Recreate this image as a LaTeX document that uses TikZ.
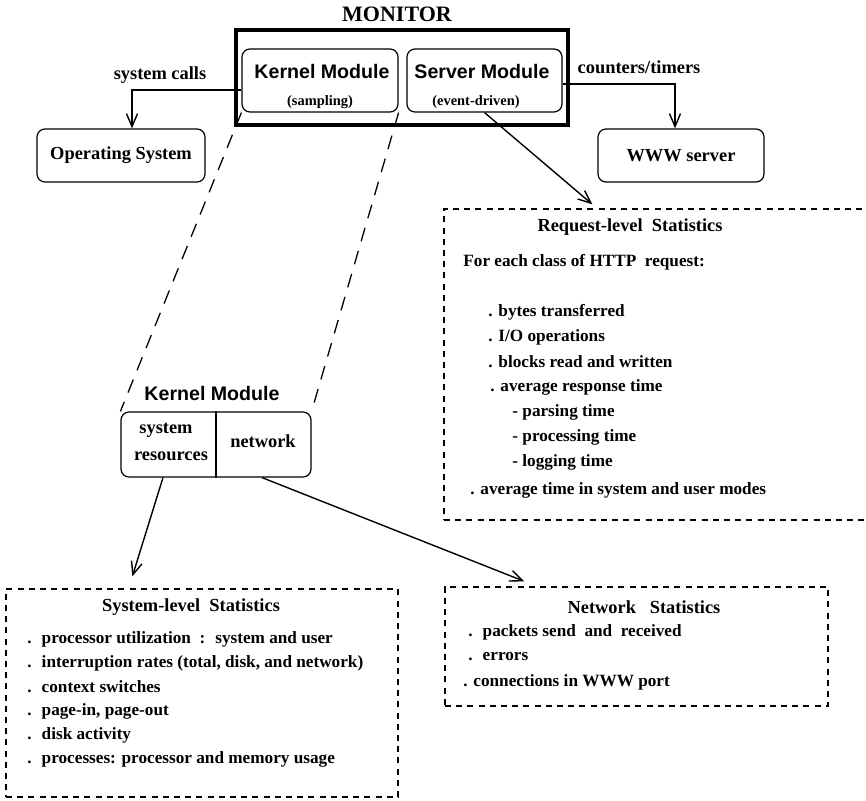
\documentclass[tikz,border=0pt]{standalone}
\usepackage{fontspec}
\setmainfont{Liberation Serif}
\setsansfont{Liberation Sans}
\usetikzlibrary{arrows.meta}

\newcommand{\bodyfont}{\fontsize{9.2}{11}\selectfont\bfseries}
\newcommand{\itemfont}{\fontsize{8.6}{10}\selectfont\bfseries}

\tikzset{
    modbox/.style = {draw, rounded corners = 4pt, line width = 0.6pt, inner sep = 0pt},
    statbox/.style = {draw, dash pattern = on 3pt off 2.6pt, line width = 0.65pt, inner sep = 0pt},
    txt/.style = {inner sep = 0pt, font = \bodyfont},
    item/.style = {inner sep = 0pt, font = \itemfont, anchor = west},
    modname/.style = {inner sep = 0pt, font = \sffamily\fontsize{9.8}{12}\selectfont\bfseries},
    modmode/.style = {inner sep = 0pt, font = \fontsize{7.2}{9}\selectfont\bfseries},
    arr/.style = {-{Straight Barb[length = 6.5pt, width = 5.5pt]}, line width = 0.7pt},
    zoomline/.style = {dash pattern = on 7pt off 5pt, line width = 0.65pt}
}

\begin{document}
\begin{tikzpicture}[x = 0.5pt, y = -0.5pt]
%\draw [help lines] (0,0) grid (866,801);
    \useasboundingbox (0,0) rectangle (866,801);
    \clip (0,0) rectangle (866,801);

    % the monitor and its two modules
    \node [draw, line width = 1.7pt, minimum width = 166pt, minimum height = 47.5pt] (monitor) at (402,77.5) {};
    \node [txt, font = \fontsize{11}{13}\selectfont\bfseries] (montitle) at (397,14) {MONITOR};
    \node [modbox, minimum width = 78pt, minimum height = 31.5pt] (kernel) at (320,80.5) {};
    \node [modname] (kname) at (322,72) {Kernel Module};
    \node [modmode] (kmode) at (320,102) {(sampling)};
    \node [modbox, minimum width = 77.5pt, minimum height = 31.5pt] (server) at (484.5,80.5) {};
    \node [modname] (sname) at (482,72) {Server Module};
    \node [modmode] (smode) at (476,102) {(event-driven)};

    % systems being watched
    \node [modbox, font = \bodyfont, minimum width = 84pt, minimum height = 26.5pt] (os) at (121,155.5) {Operating System};
    \node [modbox, font = \bodyfont, minimum width = 83pt, minimum height = 26.5pt] (www) at (681,155.5) {WWW server};
    \node [txt] (calls) at (160,75) {system calls};
    \node [txt] (counters) at (639,67) {counters/timers};
    \draw [arr] ([yshift = -4.75pt]kernel.west) -| ([xshift = 5.5pt]os.north);
    \draw [arr] ([yshift = -1.75pt]server.east) -| ([xshift = -3pt]www.north);

    % request-level statistics
    \node [statbox, minimum width = 220pt, minimum height = 155.5pt] (req) at (664,364.5) {};
    \node [txt] (reqtitle) at (630,227) {Request-level~ Statistics};
    \node [item] (reqclass) at (463,262) {For each class of HTTP~ request:};
    \node [item] (reqbytes) at (488,312) {. bytes transferred};
    \node [item] (reqio) at (488,337) {. I/O operations};
    \node [item] (reqblocks) at (488,362) {. blocks read and written};
    \node [item] (reqresp) at (490,387) {. average response time};
    \node [item] (reqparse) at (512,412) {- parsing time};
    \node [item] (reqproc) at (512,437) {- processing time};
    \node [item] (reqlog) at (512,462) {- logging time};
    \node [item] (reqmodes) at (470,490) {. average time in system and user modes};
    \draw [arr] (server.south) -- ([xshift = 74.5pt, yshift = 2pt]req.north west);

    % kernel module in detail
    \node [modname] (kname2) at (212,393) {Kernel Module};
    \node [modbox, minimum width = 95pt, minimum height = 32.5pt] (kbox) at (216,444.5) {};
    \draw [line width = 0.6pt] (kbox.north) -- (kbox.south);
    \node [txt] (ksys) at (166,430) {system};
    \node [txt] (kres) at (171,456) {resources};
    \node [txt] (knet) at (263,441) {network};
    \draw [zoomline] (kernel.south west) -- (kbox.north west);
    \draw [zoomline] (kernel.south east) -- (kbox.north east);

    % system-level statistics
    \node [statbox, minimum width = 196pt, minimum height = 104pt] (sys) at (202,693) {};
    \node [txt] (systitle) at (191,607) {System-level~ Statistics};
    \node [item] (sysproc) at (27,639) {.~ processor utilization~ :~ system and user};
    \node [item] (sysint) at (27,663) {.~ interruption rates (total, disk, and network)};
    \node [item] (sysctx) at (27,687) {.~ context switches};
    \node [item] (syspage) at (27,711) {.~ page-in, page-out};
    \node [item] (sysdisk) at (27,735) {.~ disk activity};
    \node [item] (sysps) at (27,759) {.~ processes: processor and memory usage};
    \draw [arr] ([xshift = -26.5pt]kbox.south) -- ([xshift = 63.5pt, yshift = 6pt]sys.north west);

    % network statistics
    \node [statbox, minimum width = 191.5pt, minimum height = 59.5pt] (net) at (636.5,646.5) {};
    \node [txt] (nettitle) at (644,607) {Network~~ Statistics};
    \node [item] (netpkt) at (468,632) {.~ packets send~ and~ received};
    \node [item] (neterr) at (468,657) {.~ errors};
    \node [item] (netconn) at (463,682) {. connections in WWW port};
    \draw [arr] ([xshift = 23pt]kbox.south) -- ([xshift = 40pt, yshift = 2.5pt]net.north west);
\end{tikzpicture}
\end{document}
